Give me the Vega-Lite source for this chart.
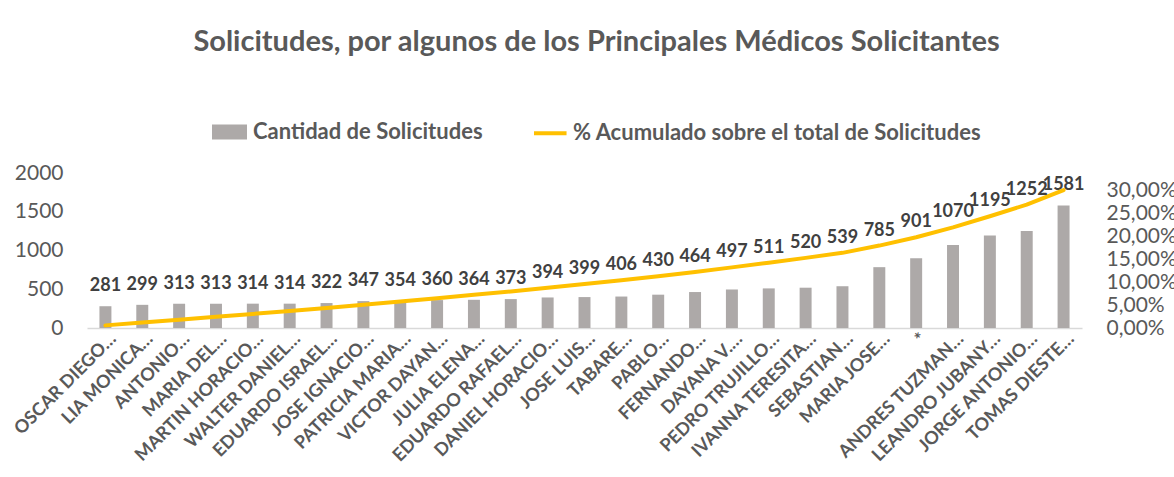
{
  "$schema": "https://vega.github.io/schema/vega-lite/v6.json",
  "width": 995,
  "height": 155,
  "autosize": {"type": "none"},
  "padding": {"left": 87, "top": 173, "right": 92, "bottom": 149},
  "background": "white",
  "title": {
    "text": "Solicitudes, por algunos de los Principales Médicos Solicitantes",
    "font": "Lato",
    "fontSize": 29,
    "fontWeight": "bold",
    "color": "#595959",
    "anchor": "middle",
    "dx": 12,
    "offset": 57
  },
  "config": {
    "view": {"stroke": null},
    "font": "Lato",
    "legend": {"padding": 0},
    "axis": {"labelOverlap": false},
    "axisY": {"labelOverlap": false},
    "axisQuantitative": {"labelOverlap": false}
  },
  "data": {
    "values": [
      {"medico": "OSCAR DIEGO…", "cantidad": 281, "pct": 0.0057},
      {"medico": "LIA MONICA…", "cantidad": 299, "pct": 0.0117},
      {"medico": "ANTONIO…", "cantidad": 313, "pct": 0.0180},
      {"medico": "MARIA DEL…", "cantidad": 313, "pct": 0.0243},
      {"medico": "MARTIN HORACIO…", "cantidad": 314, "pct": 0.0306},
      {"medico": "WALTER DANIEL…", "cantidad": 314, "pct": 0.0369},
      {"medico": "EDUARDO ISRAEL…", "cantidad": 322, "pct": 0.0434},
      {"medico": "JOSE IGNACIO…", "cantidad": 347, "pct": 0.0504},
      {"medico": "PATRICIA MARIA…", "cantidad": 354, "pct": 0.0575},
      {"medico": "VICTOR  DAYAN…", "cantidad": 360, "pct": 0.0648},
      {"medico": "JULIA ELENA…", "cantidad": 364, "pct": 0.0721},
      {"medico": "EDUARDO RAFAEL…", "cantidad": 373, "pct": 0.0796},
      {"medico": "DANIEL HORACIO…", "cantidad": 394, "pct": 0.0876},
      {"medico": "JOSE LUIS…", "cantidad": 399, "pct": 0.0956},
      {"medico": "TABARE…", "cantidad": 406, "pct": 0.1038},
      {"medico": "PABLO…", "cantidad": 430, "pct": 0.1124},
      {"medico": "FERNANDO…", "cantidad": 464, "pct": 0.1218},
      {"medico": "DAYANA V.…", "cantidad": 497, "pct": 0.1318},
      {"medico": "PEDRO  TRUJILLO…", "cantidad": 511, "pct": 0.1421},
      {"medico": "IVANNA TERESITA…", "cantidad": 520, "pct": 0.1525},
      {"medico": "SEBASTIAN…", "cantidad": 539, "pct": 0.1634},
      {"medico": "MARIA JOSE…", "cantidad": 785, "pct": 0.1792},
      {"medico": "*", "cantidad": 901, "pct": 0.1973},
      {"medico": "ANDRES  TUZMAN…", "cantidad": 1070, "pct": 0.2189},
      {"medico": "LEANDRO  JUBANY…", "cantidad": 1195, "pct": 0.2430},
      {"medico": "JORGE ANTONIO…", "cantidad": 1252, "pct": 0.2682},
      {"medico": "TOMAS  DIESTE…", "cantidad": 1581, "pct": 0.3000}
    ]
  },
  "encoding": {
    "x": {
      "field": "medico",
      "type": "nominal",
      "sort": null,
      "scale": {"paddingInner": 0.675, "paddingOuter": 0.3375},
      "axis": {
        "title": null,
        "labelAngle": -45,
        "labelAlign": "right",
        "labelBaseline": "middle",
        "labelFont": "Lato",
        "labelFontSize": 18,
        "labelFontWeight": "bold",
        "labelColor": "#595959",
        "labelPadding": 8,
        "labelOffset": 8,
        "labelLimit": 300,
        "labelOverlap": false,
        "ticks": false,
        "domainColor": "#D9D9D9",
        "domainWidth": 1.5
      }
    }
  },
  "layer": [
    {
      "layer": [
        {
          "mark": {"type": "bar", "color": "#ADA9A8"},
          "encoding": {
            "y": {
              "field": "cantidad",
              "type": "quantitative",
              "scale": {"domain": [0, 2000], "nice": false},
              "axis": {
                "title": null,
                "values": [0, 500, 1000, 1500, 2000],
                "format": "d",
                "labelOverlap": false,
                "grid": false,
                "ticks": false,
                "domain": false,
                "labelFont": "Lato",
                "labelFontSize": 21,
                "labelColor": "#595959",
                "labelPadding": 24
              }
            },
            "color": {
              "datum": "Cantidad de Solicitudes",
              "scale": {
                "domain": ["Cantidad de Solicitudes", "% Acumulado sobre el total de Solicitudes"],
                "range": ["#ADA9A8", "#FFC000"]
              },
              "legend": {
                "title": null,
                "orient": "none",
                "direction": "horizontal",
                "legendX": 125,
                "legendY": -59,
                "symbolSize": 961,
                "labelFont": "Lato",
                "labelFontSize": 22,
                "labelFontWeight": "bold",
                "labelColor": "#595959",
                "labelOffset": 6,
                "labelLimit": 600,
                "columnPadding": 43,
                "encode": {
                  "symbols": {
                    "update": {
                      "shape": {"signal": "datum.label === 'Cantidad de Solicitudes' ? 'M-1,-0.355H1V0.355H-1Z' : 'M-1,0H1.1'"},
                      "fill": {"signal": "datum.label === 'Cantidad de Solicitudes' ? '#ADA9A8' : 'transparent'"},
                      "stroke": {"signal": "datum.label === 'Cantidad de Solicitudes' ? 'transparent' : '#FFC000'"},
                      "strokeWidth": {"value": 4},
                      "opacity": {"value": 1},
                      "fillOpacity": {"value": 1},
                      "strokeOpacity": {"value": 1}
                    }
                  }
                }
              }
            }
          }
        },
        {
          "transform": [{"filter": "datum.cantidad < 380 || datum.cantidad > 1500"}],
          "mark": {
            "type": "text",
            "font": "Lato",
            "fontSize": 18,
            "fontWeight": "bold",
            "color": "#404040",
            "baseline": "middle",
            "dy": -20
          },
          "encoding": {
            "y": {
              "field": "cantidad",
              "type": "quantitative",
              "axis": {
                "title": null,
                "values": [0, 500, 1000, 1500, 2000],
                "format": "d",
                "labelOverlap": false,
                "grid": false,
                "ticks": false,
                "domain": false,
                "labelFont": "Lato",
                "labelFontSize": 21,
                "labelColor": "#595959",
                "labelPadding": 24
              }
            },
            "text": {"field": "cantidad", "type": "quantitative"}
          }
        }
      ]
    },
    {
      "layer": [
        {
          "mark": {"type": "line", "strokeWidth": 4, "color": "#FFC000", "strokeCap": "round", "strokeJoin": "round"},
          "encoding": {
            "y": {
              "field": "pct",
              "type": "quantitative",
              "scale": {"domain": [0, 0.337], "nice": false},
              "axis": {
                "orient": "right",
                "title": null,
                "values": [0, 0.05, 0.1, 0.15, 0.2, 0.25, 0.3],
                "labelExpr": "replace(format(datum.value, '.2%'), '.', ',')",
                "labelOverlap": false,
                "grid": false,
                "ticks": false,
                "domain": false,
                "labelFont": "Lato",
                "labelFontSize": 21,
                "labelColor": "#595959",
                "labelPadding": 24
              }
            },
            "color": {"datum": "% Acumulado sobre el total de Solicitudes"}
          }
        },
        {
          "transform": [{"filter": "datum.cantidad >= 380 && datum.cantidad <= 1500"}],
          "mark": {
            "type": "text",
            "font": "Lato",
            "fontSize": 18,
            "fontWeight": "bold",
            "color": "#404040",
            "baseline": "middle",
            "dy": -15
          },
          "encoding": {
            "y": {
              "field": "pct",
              "type": "quantitative",
              "axis": {
                "orient": "right",
                "title": null,
                "values": [0, 0.05, 0.1, 0.15, 0.2, 0.25, 0.3],
                "labelExpr": "replace(format(datum.value, '.2%'), '.', ',')",
                "labelOverlap": false,
                "grid": false,
                "ticks": false,
                "domain": false,
                "labelFont": "Lato",
                "labelFontSize": 21,
                "labelColor": "#595959",
                "labelPadding": 24
              }
            },
            "text": {"field": "cantidad", "type": "quantitative"}
          }
        }
      ]
    }
  ],
  "resolve": {"scale": {"y": "independent"}}
}
